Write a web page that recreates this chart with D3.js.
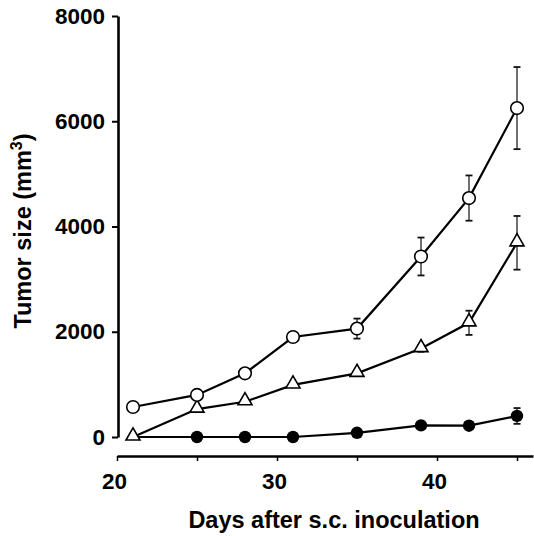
<!DOCTYPE html>
<html>
<head>
<meta charset="utf-8">
<script src="https://cdn.jsdelivr.net/npm/d3@7"></script>
<style>
  html, body { margin: 0; padding: 0; background: #fff; }
  svg { display: block; font-family: "Liberation Sans", Arial, Helvetica, sans-serif; }
</style>
</head>
<body>
<svg id="chart" width="534" height="536"></svg>
<script>
// days of measurement
const days = [21, 25, 28, 31, 35, 39, 42, 45];

// open circles
const openVals = [570, 800, 1210, 1900, 2060, 3430, 4540, 6250];
const openErr  = [0, 0, 0, 0, 190, 360, 430, 780];

// open triangles
const triVals = [0, 530, 670, 990, 1210, 1680, 2170, 3690];
const triErr  = [0, 0, 0, 0, 0, 60, 230, 510];

// filled circles (first point sits under the triangle)
const fillVals = [0, 0, 0, 0, 80, 220, 215, 400];
const fillErr  = [0, 0, 0, 0, 0, 0, 0, 150];

const yTicks = [0, 2000, 4000, 6000, 8000];
const xTicks = [20, 25, 30, 35, 40, 45];

const svg = d3.select("#chart");

const x = d3.scaleLinear().domain([20, 46]).range([117, 533]);
const y = d3.scaleLinear().domain([0, 8000]).range([437, 16]);

function toPts(vals, errs) {
  return days.map((d, i) => ({ day: d, v: vals[i], e: errs[i] }));
}
const openPts = toPts(openVals, openErr);
const triPts = toPts(triVals, triErr);
const fillPts = toPts(fillVals, fillErr);

// y axis
const yAxis = svg.append("g")
    .attr("transform", "translate(118,0)")
    .call(d3.axisLeft(y).tickValues(yTicks).tickSize(6).tickSizeOuter(0).tickPadding(7).tickFormat(d3.format("d")));
yAxis.select(".domain").attr("stroke-width", 2.6);
yAxis.selectAll(".tick line").attr("stroke-width", 2);
yAxis.selectAll("text")
    .attr("font-size", 22.5)
    .attr("font-weight", "bold")
    .attr("fill", "#000");

// x axis
const xAxis = svg.append("g")
    .attr("transform", "translate(0,456)")
    .call(d3.axisBottom(x).tickValues(xTicks).tickSize(5).tickSizeOuter(0)
      .tickFormat(d => d % 10 === 0 ? d : ""));
xAxis.select(".domain").attr("stroke-width", 2.6);
xAxis.selectAll(".tick line").attr("stroke-width", 1.5);
xAxis.selectAll("text")
    .attr("y", 17)
    .attr("dx", "-3")
    .attr("font-size", 22.5)
    .attr("font-weight", "bold")
    .attr("fill", "#000");

// axis titles
svg.append("text")
    .attr("x", 334)
    .attr("y", 528)
    .attr("text-anchor", "middle")
    .attr("font-size", 23.5)
    .attr("font-weight", "bold")
    .text("Days after s.c. inoculation");

const yt = svg.append("text")
    .attr("transform", "translate(31,231) rotate(-90)")
    .attr("text-anchor", "middle")
    .attr("font-size", 23.5)
    .attr("font-weight", "bold");
yt.append("tspan").text("Tumor size (mm");
yt.append("tspan").attr("font-size", 16).attr("dy", -9).text("3");
yt.append("tspan").attr("dy", 9).text(")");

const line = d3.line().x(d => x(d.day)).y(d => y(d.v));

function errorBars(pts) {
  const g = svg.append("g").attr("stroke", "#111").attr("stroke-width", 1.2);
  pts.filter(d => d.e > 0).forEach(d => {
    const cx = x(d.day);
    g.append("line").attr("x1", cx).attr("x2", cx).attr("y1", y(d.v - d.e)).attr("y2", y(d.v + d.e));
    [d.v - d.e, d.v + d.e].forEach(v => {
      g.append("line").attr("x1", cx - 3.5).attr("x2", cx + 3.5).attr("y1", y(v)).attr("y2", y(v)).attr("stroke-width", 1.8);
    });
  });
}

errorBars(openPts);
errorBars(triPts);
errorBars(fillPts);

[fillPts, triPts, openPts].forEach(pts => {
  svg.append("path").datum(pts)
      .attr("fill", "none")
      .attr("stroke", "#000")
      .attr("stroke-width", 2.2)
      .attr("d", line);
});

// filled circles
svg.append("g").selectAll("circle")
  .data(fillPts.filter(d => d.day > 21))
  .join("circle")
    .attr("cx", d => x(d.day))
    .attr("cy", d => y(d.v))
    .attr("r", 6.2)
    .attr("fill", "#000");

// triangles
const tri = d3.symbol().type(d3.symbolTriangle).size(85);
svg.append("g").selectAll("path")
  .data(triPts)
  .join("path")
    .attr("transform", d => `translate(${x(d.day)},${y(d.v) - 1})`)
    .attr("d", tri)
    .attr("fill", "#fff")
    .attr("stroke", "#000")
    .attr("stroke-width", 1.6);

// open circles
svg.append("g").selectAll("circle")
  .data(openPts)
  .join("circle")
    .attr("cx", d => x(d.day))
    .attr("cy", d => y(d.v))
    .attr("r", 6.3)
    .attr("fill", "#fff")
    .attr("stroke", "#000")
    .attr("stroke-width", 1.6);
</script>
</body>
</html>
